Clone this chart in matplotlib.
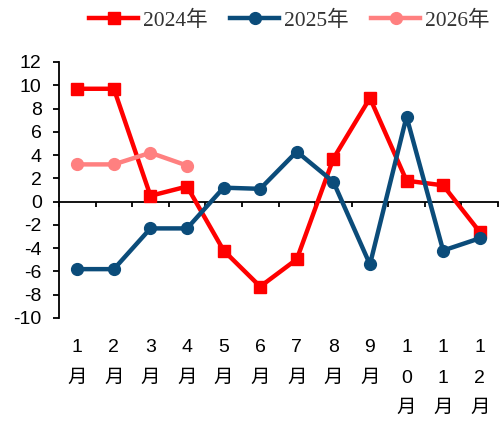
import matplotlib
matplotlib.use("Agg")
import matplotlib.pyplot as plt
from matplotlib.transforms import blended_transform_factory

months = ["1\n月", "2\n月", "3\n月", "4\n月", "5\n月", "6\n月",
          "7\n月", "8\n月", "9\n月", "1\n0\n月", "1\n1\n月", "1\n2\n月"]
y2024 = [9.7, 9.7, 0.5, 1.3, -4.2, -7.3, -4.95, 3.7, 8.9, 1.8, 1.4, -2.6]
y2025 = [-5.8, -5.8, -2.3, -2.3, 1.2, 1.1, 4.3, 1.7, -5.4, 7.3, -4.2, -3.15]
y2026 = [3.2, 3.2, 4.2, 3.1]
yticks = list(range(-10, 13, 2))

sans = ["Liberation Sans", "Noto Sans CJK SC"]
serif = ["Liberation Serif", "Noto Sans CJK SC"]

fig = plt.figure(figsize=(5.01, 4.22), dpi=100)
ax = fig.add_axes([59 / 501, 1 - 318 / 422, (498 - 59) / 501, (318 - 62) / 422])

x = list(range(len(months)))
ax.plot(x, y2024, color="#FF0000", lw=3.2, marker="s", ms=9, label="2024年",
        solid_joinstyle="miter")
ax.plot(x, y2025, color="#0B4C7A", lw=3.2, marker="o", ms=8.5, label="2025年")
ax.plot(x[:len(y2026)], y2026, color="#FF8080", lw=3.2, marker="o", ms=8.5,
        label="2026年")

ax.set_xlim(-0.5, len(months) - 0.5)
ax.set_ylim(-10, 12)

for s in ("top", "right"):
    ax.spines[s].set_visible(False)
ax.spines["bottom"].set_position(("data", 0))
ax.spines["bottom"].set_zorder(0.5)
ax.spines["left"].set_linewidth(1.3)
ax.spines["bottom"].set_linewidth(1.3)

ax.set_yticks(yticks)
ax.set_yticklabels([str(v) for v in yticks], family=sans, fontsize=14)
ax.tick_params(axis="y", direction="out", length=4.5, width=1.3, pad=8)

ax.set_xticks([i - 0.5 for i in range(len(months) + 1)])
ax.set_xticklabels([])
ax.tick_params(axis="x", direction="out", length=3.5, width=1.3)

trans = blended_transform_factory(ax.transData, fig.transFigure)
for i, lab in enumerate(months):
    ax.text(i, 1 - 339 / 422, lab, transform=trans, ha="center", va="top",
            family=sans, fontsize=14, linespacing=2.05)

ax.legend(loc="upper center", bbox_to_anchor=(0.577, 1.0), bbox_transform=fig.transFigure,
          ncol=3, frameon=False, prop={"family": serif, "size": 15.5},
          handlelength=2.3, handletextpad=0.2, columnspacing=1.05,
          labelcolor="#333333", borderaxespad=0.1)

fig.savefig("out.png", dpi=100)
